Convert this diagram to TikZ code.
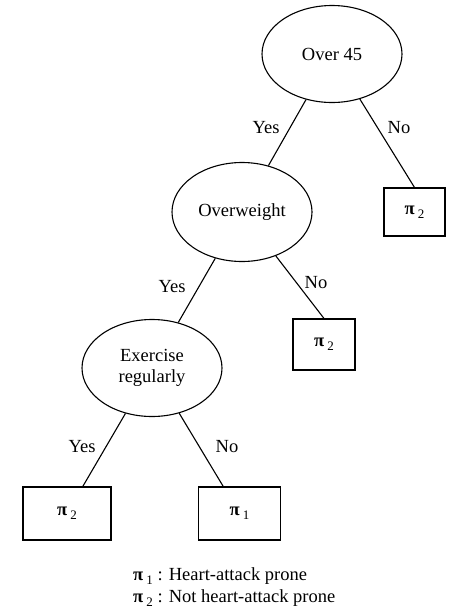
\documentclass[tikz,border=0pt]{standalone}
\usepackage{fontspec}
\setmainfont{Liberation Serif}
\usetikzlibrary{shapes.geometric}
\newcommand\pisub[1]{\textbf{π}\,\raisebox{-0.45ex}{\fontsize{13}{13}\selectfont #1}}
\begin{document}
\begin{tikzpicture}[x=1pt,y=-1pt,
  every node/.style={font=\fontsize{18.5}{21}\selectfont},
  dec/.style={draw, ellipse, minimum width=140pt, minimum height=97pt, inner sep=0pt, line width=1.1pt, align=center},
  leaf/.style={draw, rectangle, inner sep=0pt, line width=1.1pt},
  edge/.style={line width=1.1pt},
  lbl/.style={inner sep=0pt},
  legend/.style={anchor=west, inner sep=0pt}]
\useasboundingbox (0,0) rectangle (455,611);
\node[dec] (o45) at (332,54) {Over 45};
\node[dec, minimum height=99pt] (ow) at (242,212) {Overweight};
\node[dec] (ex) at (152,368) {Exercise\\regularly};
\node[leaf, minimum width=61pt, minimum height=48pt] (b1) at (414.5,212) {\pisub{2}};
\node[leaf, minimum width=62pt, minimum height=51pt] (b2) at (324,344.5) {\pisub{2}};
\node[leaf, minimum width=88pt, minimum height=53pt] (b3) at (67,513.5) {\pisub{2}};
\node[leaf, minimum width=82pt, minimum height=53pt] (b4) at (239.5,513.5) {\pisub{1}};
\draw[edge] (o45) -- (ow);
\draw[edge] (o45) -- (b1.north);
\draw[edge] (ow) -- (ex);
\draw[edge] (ow) -- (b2.north);
\draw[edge] (ex) -- (b3);
\draw[edge] (ex) -- (b4);
\node[lbl] (y1) at (266,128) {Yes};
\node[lbl] (n1) at (399,128) {No};
\node[lbl] (y2) at (172,287) {Yes};
\node[lbl] (n2) at (316,283) {No};
\node[lbl] (y3) at (82,447) {Yes};
\node[lbl] (n3) at (227,447) {No};
\node[legend] (l1) at (133,576) {\pisub{1} : Heart-attack prone};
\node[legend] (l2) at (133,598) {\pisub{2} : Not heart-attack prone};
\end{tikzpicture}
\end{document}
